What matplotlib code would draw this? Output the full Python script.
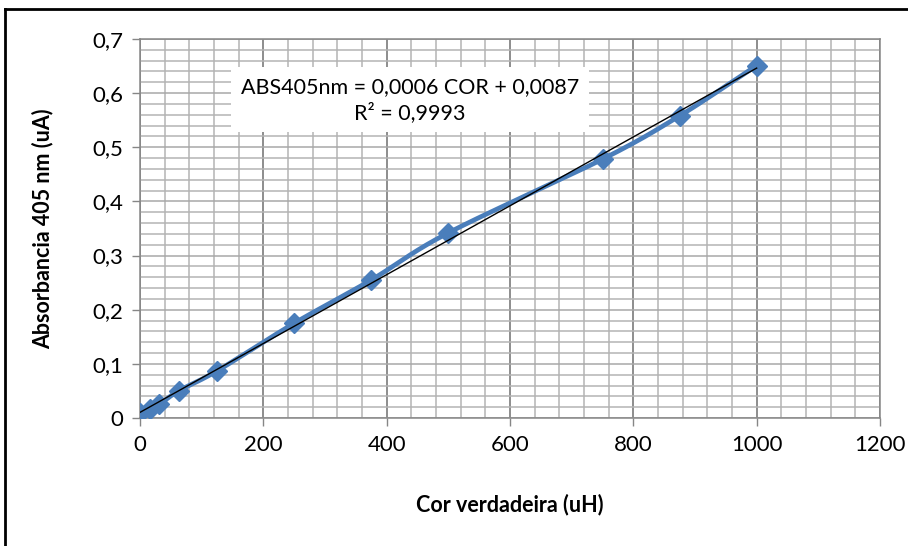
import numpy as np
import matplotlib.pyplot as plt
from matplotlib.lines import Line2D

# data
cor = [0, 15.6, 31.25, 62.5, 125, 250, 375, 500, 750, 875, 1000]
absorb = [0.010, 0.017, 0.025, 0.050, 0.087, 0.175, 0.255, 0.342, 0.478, 0.558, 0.651]
eq_text = "ABS405nm = 0,0006 COR + 0,0087\nR² = 0,9993"
x_ticks = [0, 200, 400, 600, 800, 1000, 1200]
y_ticks = [0, 0.1, 0.2, 0.3, 0.4, 0.5, 0.6, 0.7]


def smooth(xs, ys, n=20):
    # catmull-rom like excel's smoothed line
    xs = np.asarray(xs, float)
    ys = np.asarray(ys, float)
    px = np.concatenate([[2 * xs[0] - xs[1]], xs, [2 * xs[-1] - xs[-2]]])
    py = np.concatenate([[2 * ys[0] - ys[1]], ys, [2 * ys[-1] - ys[-2]]])
    ox, oy = [], []
    t = np.linspace(0, 1, n)
    for i in range(1, len(px) - 2):
        for p, o in ((px, ox), (py, oy)):
            p0, p1, p2, p3 = p[i - 1], p[i], p[i + 1], p[i + 2]
            o.extend(0.5 * (2 * p1 + (-p0 + p2) * t
                            + (2 * p0 - 5 * p1 + 4 * p2 - p3) * t ** 2
                            + (-p0 + 3 * p1 - 3 * p2 + p3) * t ** 3))
    return ox, oy


plt.rcParams['font.family'] = ['Lato', 'DejaVu Sans']

fig = plt.figure(figsize=(9.08, 5.46), dpi=100)
ax = fig.add_axes([140 / 908, 1 - 418 / 546, 740 / 908, 379 / 546])

ax.set_xlim(0, 1200)
ax.set_ylim(0, 0.7)
ax.set_xticks(x_ticks)
ax.set_xticklabels([str(v) for v in x_ticks], fontsize=16)
ax.set_yticks(y_ticks)
ax.set_yticklabels(["0" if v == 0 else ("%.1f" % v).replace(".", ",") for v in y_ticks], fontsize=16)
ax.set_xticks(np.arange(0, 1201, 40), minor=True)
ax.set_yticks(np.arange(0, 0.701, 0.02), minor=True)

ax.grid(which='minor', color='#b4b4b4', lw=1.1, zorder=0)
ax.grid(which='major', axis='y', color='#a8a8a8', lw=1.1, zorder=0)
ax.grid(which='major', axis='x', color='#858585', lw=1.3, zorder=0)
ax.tick_params(which='minor', length=0)
ax.tick_params(which='major', direction='out', length=6, width=1, color='#868686', pad=6)
for s in ax.spines.values():
    s.set_color('#868686')
    s.set_linewidth(1.1)
ax.set_axisbelow(True)

sx, sy = smooth(cor, absorb)
ax.plot(sx, sy, color='#4a7ebb', lw=3.4, zorder=3)
ax.plot(cor, absorb, ls='none', marker='D', ms=10, color='#4a7ebb', zorder=4)

k, b = np.polyfit(cor, absorb, 1)
tx = np.array([cor[0], cor[-1]])
ax.plot(tx, k * tx + b, color='black', lw=1.0, zorder=5)

ax.text(438, 0.588, eq_text, ha='center', va='center', fontsize=15.5, linespacing=1.3,
        bbox=dict(facecolor='white', edgecolor='none', pad=7), zorder=6)

ax.set_xlabel("Cor verdadeira (uH)", fontsize=15.5, fontweight='bold', labelpad=28)
ax.set_ylabel("Absorbancia 405 nm (uA)", fontsize=15.5, fontweight='bold', labelpad=28)

# outer chart border (only top and left visible in the crop)
fig.add_artist(Line2D([5 / 908, 5 / 908], [0, 1 - 9 / 546], color='black', lw=2, transform=fig.transFigure))
fig.add_artist(Line2D([5 / 908, 1], [1 - 9 / 546, 1 - 9 / 546], color='black', lw=2, transform=fig.transFigure))

fig.savefig('out.png', dpi=100)
